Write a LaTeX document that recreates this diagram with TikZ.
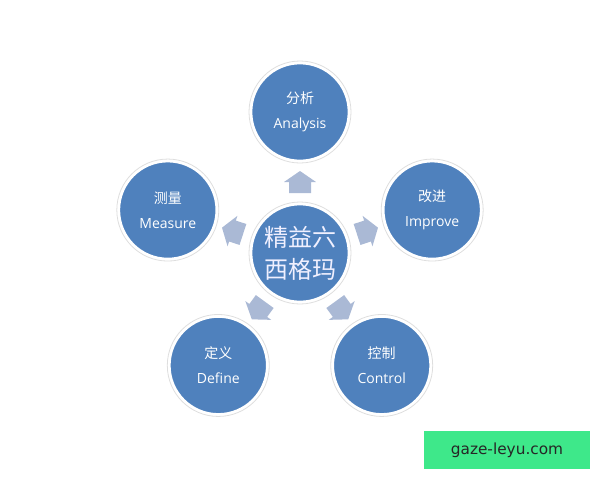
\documentclass[tikz,border=0pt]{standalone}
\usepackage{fontspec}
\setmainfont{Open Sans}
\newfontfamily\cjk{Noto Sans CJK SC}
\newfontfamily\wmf{DejaVu Sans}
\definecolor{cfill}{HTML}{4F81BD}
\definecolor{carr}{HTML}{AAB9D5}
\definecolor{cwm}{HTML}{3EE88A}
\begin{document}
\begin{tikzpicture}[x=0.75pt,y=0.75pt,
  bub/.style={circle,minimum size=98*0.75pt,inner sep=0pt,fill=cfill,draw=white,line width=2pt,
    text=white,align=center,font=\fontsize{10.5}{19}\selectfont},
  ring/.style={draw=black!13,line width=0.6pt},
  arr/.style={fill=carr}]
\path[use as bounding box] (0,0) rectangle (600,480);
\begin{scope}[shift={(300,227)}]
\node[bub,font=\cjk\fontsize{18}{24}\selectfont,text=blue!6!white] (c) at (0,0) {精益六\\西格玛};
\node[bub] (an) at (90:141) {{\cjk 分析}\\Analysis};
\node[bub] (im) at (18:139) {{\cjk 改进}\\Improve};
\node[bub] (co) at (-54:139) {{\cjk 控制}\\Control};
\node[bub] (de) at (-126:139) {{\cjk 定义}\\Define};
\node[bub] (me) at (162:139) {{\cjk 测量}\\Measure};
\foreach \n in {c,an,im,co,de,me}{\draw[ring] (\n.center) circle (51);}
\foreach \a in {90,18,-54,-126,162}{
  \fill[arr,rotate=\a] (60,-11) -- (71,-11) -- (71,-16) -- (82,0) -- (71,16) -- (71,11) -- (60,11) -- cycle;}
\end{scope}
\node[fill=cwm,minimum width=166*0.75pt,minimum height=38*0.75pt,inner sep=0pt,
  font=\wmf\fontsize{11.5}{13}\selectfont,text=black!85] (wm) at (507,30) {gaze-leyu.com};
\end{tikzpicture}
\end{document}
